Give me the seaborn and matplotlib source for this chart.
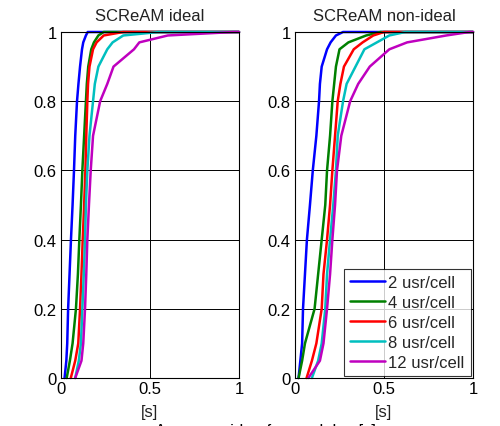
import matplotlib
matplotlib.use("Agg")
import matplotlib.pyplot as plt
import seaborn as sns
import pandas as pd

sns.set_theme(style="white")
plt.rcParams['font.family'] = ['Liberation Sans', 'DejaVu Sans']

levels = [0, 0.05, 0.1, 0.2, 0.3, 0.4, 0.5, 0.6, 0.7, 0.8, 0.85, 0.9, 0.95, 0.97, 0.99, 1.0]
x_end = 1.0
series_names = ["2 usr/cell", "4 usr/cell", "6 usr/cell", "8 usr/cell", "12 usr/cell"]
colors = ["#0000ff", "#008000", "#ff0000", "#00bfbf", "#bf00bf"]
titles = ["SCReAM ideal", "SCReAM non-ideal"]

ideal_2 = [0.02, 0.03, 0.035, 0.04, 0.048, 0.056, 0.065, 0.073, 0.08, 0.09, 0.098, 0.107, 0.118, 0.125, 0.14, 0.15]
ideal_4 = [0.032, 0.05, 0.065, 0.084, 0.095, 0.103, 0.112, 0.12, 0.13, 0.14, 0.145, 0.153, 0.17, 0.185, 0.21, 0.24]
ideal_6 = [0.055, 0.08, 0.097, 0.107, 0.115, 0.122, 0.13, 0.137, 0.142, 0.148, 0.152, 0.16, 0.18, 0.2, 0.24, 0.35]
ideal_8 = [0.08, 0.1, 0.112, 0.12, 0.128, 0.135, 0.14, 0.148, 0.16, 0.18, 0.19, 0.21, 0.26, 0.29, 0.35, 0.55]
ideal_12 = [0.08, 0.115, 0.125, 0.135, 0.142, 0.148, 0.157, 0.167, 0.18, 0.22, 0.26, 0.295, 0.41, 0.44, 0.6, 0.97]

nonideal_2 = [0.02, 0.03, 0.04, 0.045, 0.056, 0.067, 0.084, 0.10, 0.12, 0.135, 0.14, 0.15, 0.18, 0.2, 0.23, 0.27]
nonideal_4 = [0.02, 0.04, 0.056, 0.11, 0.13, 0.15, 0.17, 0.18, 0.197, 0.21, 0.22, 0.23, 0.25, 0.30, 0.40, 0.48]
nonideal_6 = [0.065, 0.095, 0.12, 0.15, 0.16, 0.18, 0.197, 0.21, 0.225, 0.24, 0.255, 0.275, 0.33, 0.38, 0.44, 0.50]
nonideal_8 = [0.095, 0.13, 0.15, 0.17, 0.18, 0.197, 0.215, 0.23, 0.24, 0.27, 0.29, 0.34, 0.39, 0.46, 0.53, 0.62]
nonideal_12 = [0.075, 0.14, 0.16, 0.18, 0.197, 0.21, 0.225, 0.236, 0.26, 0.31, 0.355, 0.42, 0.53, 0.63, 0.85, 0.98]

panels = [
    [ideal_2, ideal_4, ideal_6, ideal_8, ideal_12],
    [nonideal_2, nonideal_4, nonideal_6, nonideal_8, nonideal_12],
]

fig = plt.figure(figsize=(5.0, 4.27), dpi=100)
bottom = (427 - 379) / 427
height = 346 / 427
axes = [fig.add_axes([61 / 500, bottom, 178 / 500, height]),
        fig.add_axes([295 / 500, bottom, 178 / 500, height])]

FS = 12

for i, ax in enumerate(axes):
    rows = []
    for name, xs in zip(series_names, panels[i]):
        for x, p in zip(xs + [x_end], levels + [levels[-1]]):
            rows.append({"x": x, "p": p, "series": name})
    df = pd.DataFrame(rows)
    sns.lineplot(data=df, x="x", y="p", hue="series", hue_order=series_names,
                 palette=colors, estimator=None, sort=False, linewidth=1.8,
                 ax=ax, legend=(i == 1), clip_on=False)
    ax.set_xlim(0, 1)
    ax.set_ylim(0, 1)
    ax.set_xticks([0, 0.5, 1])
    ax.set_xticklabels(["0", "0.5", "1"])
    ax.set_yticks([0, 0.2, 0.4, 0.6, 0.8, 1])
    ax.set_yticklabels(["0", "0.2", "0.4", "0.6", "0.8", "1"])
    ax.grid(True, color="black", linewidth=0.7, linestyle="-")
    ax.set_axisbelow(True)
    for s in ax.spines.values():
        s.set_color("black")
        s.set_linewidth(0.8)
    ax.tick_params(axis="y", labelsize=FS, colors="black", direction="in",
                   length=3, width=0.6, pad=3)
    ax.tick_params(axis="x", labelsize=FS, colors="black", direction="in",
                   length=3, width=0.6, pad=2)
    ax.set_title(titles[i], fontsize=FS, color="#222222", pad=8.5)
    ax.set_xlabel("[s]", fontsize=FS, labelpad=6, color="#222222")
    ax.set_ylabel("")

leg = axes[1].legend(loc="lower right", fontsize=FS, frameon=True, fancybox=False,
                     edgecolor="black", handlelength=2.1, borderpad=0.35,
                     labelspacing=0.3, handletextpad=0.2, borderaxespad=0.15)
leg.get_frame().set_linewidth(0.8)
leg.set_title(None)

fig.text(0.53, (427 - 424) / 427, "Average video frame delay [s]", ha="center",
         va="top", fontsize=FS, color="black")

fig.savefig("out.png", dpi=100)
